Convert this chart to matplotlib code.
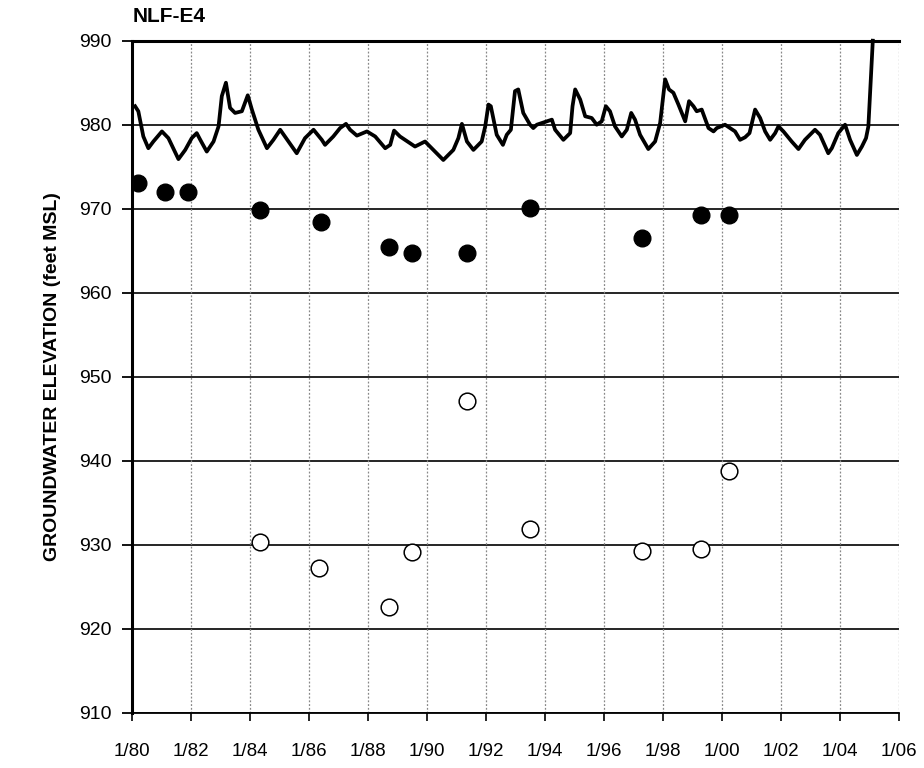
import numpy as np
import matplotlib.pyplot as plt

plt.rcParams['font.family'] = ['Liberation Sans', 'DejaVu Sans']

# groundwater elevation hydrograph (decimal year, feet MSL)
line_year = [1980.10, 1980.21, 1980.38, 1980.55, 1980.72, 1981.01, 1981.23, 1981.57, 1981.80,
             1982.02, 1982.19, 1982.31, 1982.53, 1982.76, 1982.93, 1983.04, 1983.18, 1983.32,
             1983.49, 1983.72, 1983.92, 1984.06, 1984.28, 1984.57, 1984.79, 1985.02, 1985.30,
             1985.58, 1985.86, 1986.15, 1986.43, 1986.54, 1986.82, 1987.05, 1987.25, 1987.39,
             1987.62, 1987.96, 1988.24, 1988.58, 1988.75, 1988.88, 1989.08, 1989.59, 1989.93,
             1990.21, 1990.55, 1990.89, 1991.06, 1991.18, 1991.35, 1991.57, 1991.85, 1991.97,
             1992.08, 1992.16, 1992.36, 1992.57, 1992.70, 1992.84, 1992.98, 1993.09, 1993.15,
             1993.26, 1993.49, 1993.60, 1993.72, 1993.89, 1994.06, 1994.23, 1994.34, 1994.62,
             1994.85, 1994.93, 1995.02, 1995.19, 1995.36, 1995.58, 1995.75, 1995.92, 1996.06,
             1996.20, 1996.37, 1996.60, 1996.77, 1996.92, 1997.05, 1997.22, 1997.50, 1997.73,
             1997.90, 1998.07, 1998.20, 1998.35, 1998.52, 1998.75, 1998.88, 1999.03, 1999.14,
             1999.31, 1999.54, 1999.71, 1999.82, 2000.10, 2000.27, 2000.44, 2000.61, 2000.78,
             2000.93, 2001.12, 2001.29, 2001.46, 2001.63, 2001.80, 2001.91, 2002.08, 2002.36,
             2002.59, 2002.81, 2002.98, 2003.15, 2003.32, 2003.60, 2003.72, 2003.94, 2004.17,
             2004.34, 2004.57, 2004.74, 2004.88, 2004.96, 2005.11]
line_elev = [982.2, 981.6, 978.6, 977.2, 978.0, 979.2, 978.4, 975.9, 977.0,
             978.4, 979.0, 978.2, 976.8, 978.0, 979.8, 983.4, 985.0, 982.0,
             981.4, 981.6, 983.5, 981.8, 979.4, 977.2, 978.2, 979.4, 978.0,
             976.6, 978.4, 979.4, 978.2, 977.6, 978.6, 979.6, 980.1, 979.4,
             978.7, 979.2, 978.6, 977.2, 977.6, 979.3, 978.6, 977.4, 978.0,
             977.0, 975.8, 977.0, 978.4, 980.1, 978.0, 977.0, 978.0, 979.8,
             982.4, 982.2, 978.8, 977.6, 978.8, 979.4, 984.0, 984.2, 983.2,
             981.4, 980.0, 979.6, 980.0, 980.2, 980.4, 980.6, 979.4, 978.2,
             979.0, 982.2, 984.2, 983.0, 981.0, 980.8, 980.0, 980.4, 982.2,
             981.6, 979.8, 978.6, 979.4, 981.4, 980.6, 978.8, 977.1, 978.0,
             980.2, 985.4, 984.2, 983.8, 982.4, 980.4, 982.8, 982.2, 981.6,
             981.8, 979.6, 979.2, 979.6, 980.0, 979.6, 979.2, 978.2, 978.5,
             979.0, 981.8, 980.8, 979.2, 978.2, 979.0, 979.8, 979.2, 978.0,
             977.1, 978.2, 978.8, 979.4, 978.8, 976.6, 977.2, 979.0, 980.0,
             978.2, 976.4, 977.4, 978.4, 979.8, 990.0]

# filled circles
filled_year = [1980.2, 1981.1, 1981.9, 1984.35, 1986.4, 1988.7, 1989.5, 1991.35, 1993.5,
               1997.3, 1999.3, 2000.25]
filled_elev = [973.1, 972.0, 972.0, 969.8, 968.4, 965.5, 964.7, 964.7, 970.1,
               966.5, 969.3, 969.3]

# open circles
open_year = [1984.35, 1986.35, 1988.7, 1989.5, 1991.35, 1993.5, 1997.3, 1999.3, 2000.25]
open_elev = [930.3, 927.2, 922.6, 929.1, 947.1, 931.9, 929.2, 929.5, 938.8]

xtick_years = list(range(1980, 2007, 2))
xtick_labels = ['1/%02d' % (y % 100) for y in xtick_years]
ytick_vals = list(range(910, 1000, 10))

fig = plt.figure(figsize=(9.24, 7.68), dpi=100)
ax = fig.add_axes([0.143, 0.072, 0.830, 0.875])

ax.set_xlim(1980, 2006)
ax.set_ylim(910, 990)

# grid
for y in ytick_vals:
    ax.axhline(y, color='black', lw=1.2, zorder=1)
for x in xtick_years[1:]:
    ax.axvline(x, color='#888888', lw=0.9, ls=(0, (1.5, 1.5)), zorder=1)

ax.plot(line_year, line_elev, color='black', lw=2.7, zorder=3, clip_on=False)
ax.plot(filled_year, filled_elev, 'o', ms=12, color='black', zorder=4)
ax.plot(open_year, open_elev, 'o', ms=12, mfc='white', mec='black', mew=1.1, zorder=4)

ax.spines['right'].set_visible(False)
ax.spines['top'].set_linewidth(2.2)
ax.spines['left'].set_linewidth(2.2)
ax.spines['bottom'].set_linewidth(1.3)

ax.set_xticks(xtick_years)
ax.set_xticklabels(xtick_labels, fontsize=13.5)
ax.set_yticks(ytick_vals)
ax.set_yticklabels([str(v) for v in ytick_vals], fontsize=14)
ax.tick_params(axis='x', direction='out', length=6, width=1.2, pad=16)
ax.tick_params(axis='y', direction='out', length=7, width=1.3, pad=8)

ax.set_ylabel('GROUNDWATER ELEVATION (feet MSL)', fontsize=14, fontweight='bold', labelpad=13)
ax.text(0.0, 1.022, 'NLF-E4', transform=ax.transAxes, fontsize=15, fontweight='bold',
        ha='left', va='bottom')

fig.savefig('out.png', dpi=100, facecolor='white')
